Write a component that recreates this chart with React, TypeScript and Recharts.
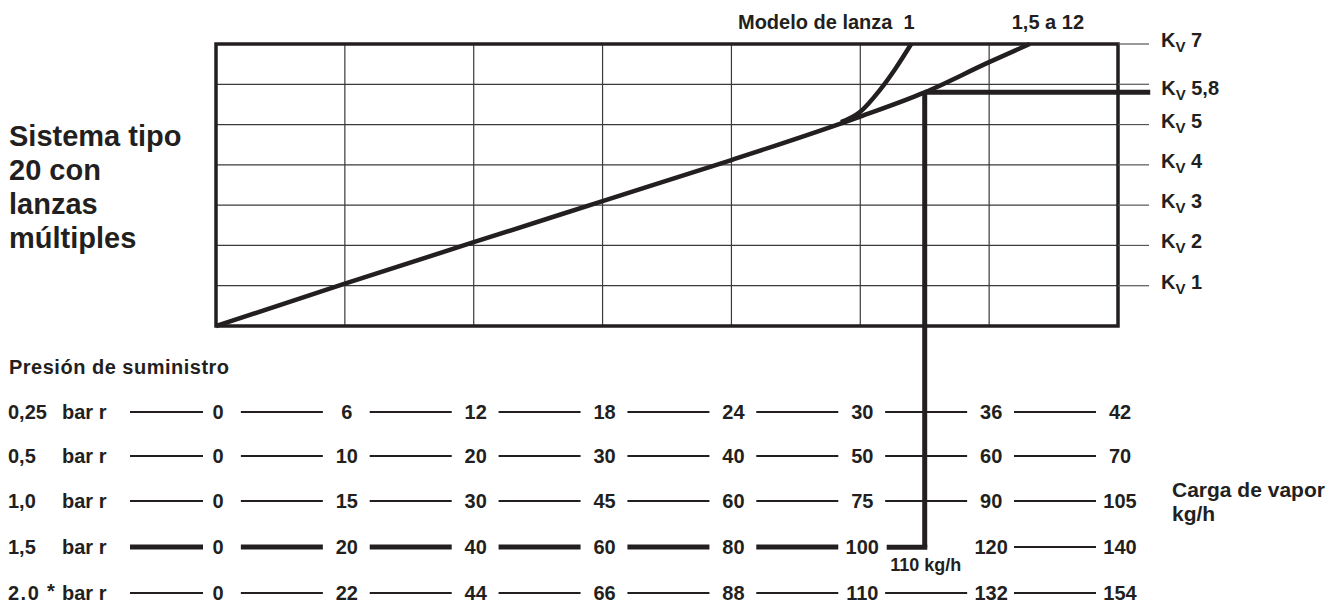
import {
  CartesianGrid,
  ComposedChart,
  Line,
  ReferenceArea,
  ReferenceLine,
  XAxis,
  YAxis,
} from "recharts";

// curve "1,5 a 12" (load read on the 1,5 bar r scale, kg/h -> Kv)
const mainLoad = [0, 20, 40, 60, 80, 100, 110, 120, 126.3];
const mainKv = [0, 1.05, 2.08, 3.1, 4.12, 5.2, 5.8, 6.55, 7];

// curve "Modelo de lanza 1"
const model1Load = [97, 100, 103, 105.5, 107.9];
const model1Kv = [5.06, 5.32, 5.85, 6.4, 7];

// supply pressure scales
const pressureLabels = ["0,25", "0,5", "1,0", "1,5", "2.0"];
const ticks025 = [0, 6, 12, 18, 24, 30, 36, 42];
const ticks05 = [0, 10, 20, 30, 40, 50, 60, 70];
const ticks10 = [0, 15, 30, 45, 60, 75, 90, 105];
const ticks15 = [0, 20, 40, 60, 80, 100, 120, 140];
const ticks20 = [0, 22, 44, 66, 88, 110, 132, 154];

const kvTicks = [1, 2, 3, 4, 5, 6, 7];
const kvLabels = ["1", "2", "3", "4", "5", "", "7"];

// operating point
const SELECTED_ROW = 3; // 1,5 bar r
const OP_LOAD = 110;
const OP_KV = 5.8;

const INK = "#231f20";
const FONT = "'Liberation Sans', Arial, sans-serif";

const mainData = mainLoad.map((load, i) => ({ load, kv: mainKv[i] }));
const model1Data = model1Load.map((load, i) => ({ load, kv: model1Kv[i] }));

const rows = [ticks025, ticks05, ticks10, ticks15, ticks20].map((ticks, i) => ({
  id: "p" + i,
  ticks,
  max: ticks[ticks.length - 1],
  label: pressureLabels[i],
}));

const AXIS_H = [108, 45, 45, 45, 34];
const ROW_DY = [86, 22, 22, 23, 24];
// Kv value that lands on the 1,5 bar row (for the drop line)
const ROW15_KV = -5.49;

const textProps = {
  fontFamily: FONT,
  fontWeight: 700,
  fill: INK,
};

function makeRowTick(row: number) {
  const r = rows[row];
  return function RowTick(props: any) {
    const { x, y, payload, index } = props;
    const cy = y + ROW_DY[row];
    const value = payload.value;
    const prev = index > 0 ? r.ticks[index - 1] : null;
    const selected = row === SELECTED_ROW;
    const crossesOp = selected && prev !== null && prev < OP_LOAD && value > OP_LOAD;
    const thickDash = selected && value <= OP_LOAD;
    const x1 = index === 0 ? x - 86 : x - 104;
    const x2 = index === 0 ? x - 13 : x - 22;
    return (
      <g>
        {!crossesOp && (
          <line
            x1={x1}
            x2={x2}
            y1={cy}
            y2={cy}
            stroke={INK}
            strokeWidth={thickDash ? 5 : 2}
          />
        )}
        <text {...textProps} x={x + 2} y={cy} fontSize={20} textAnchor="middle" dominantBaseline="central">
          {value}
        </text>
        {index === 0 && (
          <g>
            {row === 4 ? (
              <>
                <text {...textProps} x={x - 208} y={cy} fontSize={20} letterSpacing={1.5} dominantBaseline="central">
                  {r.label}
                </text>
                <text {...textProps} x={x - 169} y={cy - 2} fontSize={20} dominantBaseline="central">
                  *
                </text>
              </>
            ) : (
              <text {...textProps} x={x - 208} y={cy} fontSize={20} dominantBaseline="central">
                {r.label}
              </text>
            )}
            <text {...textProps} x={x - 154} y={cy} fontSize={20} dominantBaseline="central">
              bar r
            </text>
          </g>
        )}
      </g>
    );
  };
}

function KvLabel({ x, y, value }: { x: number; y: number; value: string }) {
  return (
    <text {...textProps} x={x} y={y + 3} fontSize={20}>
      K
      <tspan fontSize={15} dy={5}>
        V
      </tspan>
      <tspan dy={-5}>{" " + value}</tspan>
    </text>
  );
}

function KvTick(props: any) {
  const { x, y, index } = props;
  const label = kvLabels[index];
  if (!label) return null;
  return <KvLabel x={x} y={y} value={label} />;
}

function curveEndLabel(text: string, lastIndex: number, dx: number, anchor: "start" | "end") {
  return function EndLabel(props: any) {
    const { x, y, index } = props;
    if (index !== lastIndex) return null;
    return (
      <text {...textProps} x={x + dx} y={y - 15} fontSize={20} textAnchor={anchor}>
        {text}
      </text>
    );
  };
}

function KvOpLabel(props: any) {
  const vb = props.viewBox;
  return <KvLabel x={vb.x + vb.width + 11} y={vb.y} value="5,8" />;
}

function LoadOpLabel(props: any) {
  const vb = props.viewBox;
  return (
    <text {...textProps} x={vb.x + 1} y={vb.y + vb.height + 24} fontSize={18} textAnchor="middle">
      {OP_LOAD} kg/h
    </text>
  );
}

export default function App() {
  return (
    <div
      style={{
        position: "absolute",
        left: 0,
        top: 0,
        width: 1330,
        height: 603,
        overflow: "hidden",
        background: "#fff",
      }}
    >
      <ComposedChart width={1330} height={603} margin={{ top: 44, right: 0, bottom: 0, left: 216 }}>
        {rows.map((r, i) => (
          <XAxis
            key={r.id}
            xAxisId={r.id}
            type="number"
            dataKey="load"
            domain={[0, r.max]}
            allowDataOverflow
            ticks={r.ticks}
            interval={0}
            height={AXIS_H[i]}
            tickSize={0}
            tickMargin={0}
            axisLine={false}
            tickLine={false}
            tick={makeRowTick(i)}
          />
        ))}
        <YAxis
          yAxisId="kv"
          orientation="right"
          type="number"
          domain={[0, 7]}
          ticks={kvTicks}
          interval={0}
          width={212}
          tickSize={31}
          tickMargin={12}
          axisLine={false}
          tickLine={{ stroke: "#555", strokeWidth: 1.2 }}
          tick={KvTick}
        />
        <CartesianGrid xAxisId="p3" yAxisId="kv" stroke="#3a3a3a" strokeWidth={1.2} />
        <ReferenceArea
          xAxisId="p3"
          yAxisId="kv"
          x1={0}
          x2={140}
          y1={0}
          y2={7}
          fill="none"
          fillOpacity={0}
          stroke={INK}
          strokeWidth={3.5}
          ifOverflow="visible"
        />
        <Line
          xAxisId="p3"
          yAxisId="kv"
          data={mainData}
          dataKey="kv"
          type="monotone"
          stroke={INK}
          strokeWidth={4.5}
          dot={false}
          isAnimationActive={false}
          label={curveEndLabel("1,5 a 12", mainData.length - 1, -18, "start")}
        />
        <Line
          xAxisId="p3"
          yAxisId="kv"
          data={model1Data}
          dataKey="kv"
          type="monotone"
          stroke={INK}
          strokeWidth={4.5}
          dot={false}
          isAnimationActive={false}
          label={curveEndLabel("Modelo de lanza\u00a0 1", model1Data.length - 1, 3.5, "end")}
        />
        <ReferenceLine
          xAxisId="p3"
          yAxisId="kv"
          segment={[
            { x: OP_LOAD, y: OP_KV },
            { x: 145, y: OP_KV },
          ]}
          stroke={INK}
          strokeWidth={5}
          ifOverflow="visible"
          label={KvOpLabel}
        />
        <ReferenceLine
          xAxisId="p3"
          yAxisId="kv"
          segment={[
            { x: OP_LOAD, y: OP_KV },
            { x: OP_LOAD, y: ROW15_KV },
          ]}
          stroke={INK}
          strokeWidth={5}
          ifOverflow="visible"
          label={LoadOpLabel}
        />
        <ReferenceLine
          xAxisId="p3"
          yAxisId="kv"
          segment={[
            { x: 104.1, y: ROW15_KV },
            { x: OP_LOAD + 0.4, y: ROW15_KV },
          ]}
          stroke={INK}
          strokeWidth={5}
          ifOverflow="visible"
        />
        <text {...textProps} fontSize={29}>
          <tspan x={9} y={146}>Sistema tipo</tspan>
          <tspan x={9} y={180}>20 con</tspan>
          <tspan x={9} y={214}>lanzas</tspan>
          <tspan x={9} y={248}>múltiples</tspan>
        </text>
        <text {...textProps} x={9} y={374} fontSize={20} letterSpacing={0.5}>
          Presión de suministro
        </text>
        <text {...textProps} fontSize={21}>
          <tspan x={1172} y={497}>Carga de vapor</tspan>
          <tspan x={1172} y={521}>kg/h</tspan>
        </text>
      </ComposedChart>
    </div>
  );
}
